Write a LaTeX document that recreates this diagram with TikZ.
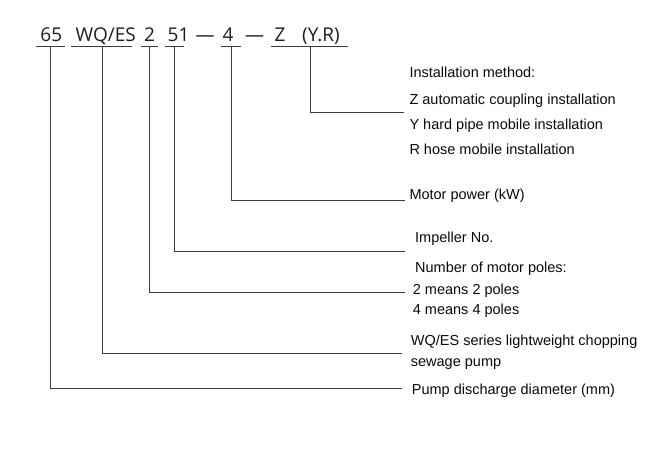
\documentclass[tikz,border=0pt]{standalone}
\usepackage{fontspec}
\setmainfont{Liberation Sans}
\newfontfamily\codefont{Open Sans}
\definecolor{txt}{HTML}{0A0A0A}
\definecolor{codetxt}{HTML}{1E1E1E}
\definecolor{ln}{HTML}{3C3C3C}
\begin{document}
\begin{tikzpicture}[x=1pt,y=-1pt,
  lbl/.style={anchor=base west,inner sep=0pt,text=txt,font=\fontsize{14.5}{16}\selectfont},
  code/.style={anchor=base,inner sep=0pt,text=codetxt,font=\codefont\fontsize{19}{22}\selectfont},
  uline/.style={draw=ln,line width=1pt},
  lead/.style={draw=ln,line width=1pt}]
\useasboundingbox (0,0) rectangle (650,450);
% code string
\node[code] (c65) at (51.3,41.7) {65};
\node[code] (cwq) at (105.8,41.7) {WQ/ES};
\node[code] (c2) at (149.5,41.7) {2};
\node[code] (c51) at (178.5,41.7) {51};
\node[code] (d1) at (205,41.7) {—};
\node[code] (c4) at (228,41.7) {4};
\node[code] (d2) at (254.5,41.7) {—};
\node[code] (cz) at (280,41.7) {Z};
\node[code] (cyr) at (321,41.7) {(Y.R)};
% underlines
\coordinate (u65a) at (36,46.7);   \coordinate (u65b) at (65,46.7);
\coordinate (uwqa) at (70.7,46.7); \coordinate (uwqb) at (131.7,46.7);
\coordinate (u2a) at (140.7,46.7); \coordinate (u2b) at (157.7,46.7);
\coordinate (u51a) at (165,46.7);  \coordinate (u51b) at (184,46.7);
\coordinate (u4a) at (221,46.7);   \coordinate (u4b) at (240.5,46.7);
\coordinate (uza) at (271,46.7);   \coordinate (uzb) at (347.7,46.7);
\draw[uline] (u65a) -- (u65b);
\draw[uline] (uwqa) -- (uwqb);
\draw[uline] (u2a) -- (u2b);
\draw[uline] (u51a) -- (u51b);
\draw[uline] (u4a) -- (u4b);
\draw[uline] (uza) -- (uzb);
% leader start points
\coordinate (s65) at (50.7,46.7);
\coordinate (swq) at (102,46.7);
\coordinate (s2) at (149.5,46.7);
\coordinate (s51) at (174,46.7);
\coordinate (s4) at (231,46.7);
\coordinate (sz) at (310,46.7);
% leader end points
\coordinate (e65) at (401.7,388);
\coordinate (ewq) at (401.7,353);
\coordinate (e2) at (405,292.7);
\coordinate (e51) at (405,251);
\coordinate (e4) at (405,200);
\coordinate (ez) at (404,112.3);
% labels
\node[lbl] (inst) at (409.3,77.7) {Installation method:};
\node[lbl] (instz) at (409.3,104.3) {Z automatic coupling installation};
\node[lbl] (insty) at (409.3,129.3) {Y hard pipe mobile installation};
\node[lbl] (instr) at (409.3,154.3) {R hose mobile installation};
\node[lbl] (motor) at (409.3,199.5) {Motor power (kW)};
\node[lbl] (imp) at (415,242.5) {Impeller No.};
\node[lbl] (poles) at (415,272.5) {Number of motor poles:};
\node[lbl] (poles2) at (412.7,294) {2 means 2 poles};
\node[lbl] (poles4) at (412.7,314.5) {4 means 4 poles};
\node[lbl] (series) at (410.7,345) {WQ/ES series lightweight chopping};
\node[lbl] (series2) at (410.7,366) {sewage pump};
\node[lbl] (pump) at (411.7,394.5) {Pump discharge diameter (mm)};
% leaders
\draw[lead] (s65) |- (e65);
\draw[lead] (swq) |- (ewq);
\draw[lead] (s2) |- (e2);
\draw[lead] (s51) |- (e51);
\draw[lead] (s4) |- (e4);
\draw[lead] (sz) |- (ez);
\end{tikzpicture}
\end{document}
